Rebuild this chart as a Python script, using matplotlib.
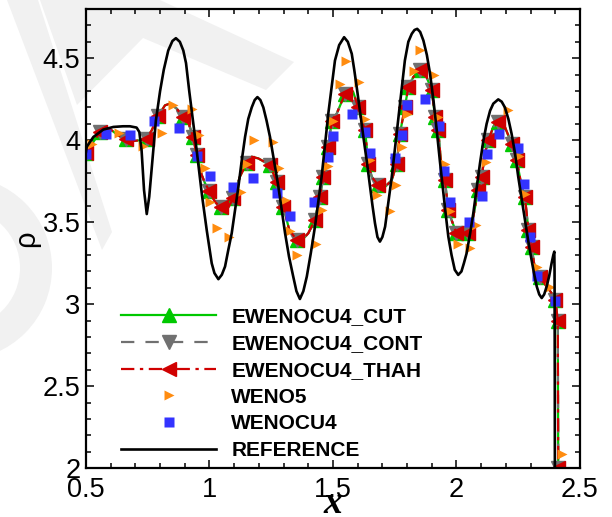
import numpy as np
import matplotlib
matplotlib.use('Agg')
import matplotlib.pyplot as plt
from matplotlib.patches import Polygon, Wedge

# reference solution (black line)
ref_x = [0.500, 0.503, 0.530, 0.570, 0.611, 0.650, 0.678, 0.705, 0.716, 0.725,
         0.735, 0.746, 0.756, 0.770, 0.783, 0.800, 0.815, 0.833, 0.850, 0.864,
         0.880, 0.894, 0.905, 0.918, 0.933, 0.948, 0.970, 0.989, 1.009, 1.020,
         1.036, 1.050, 1.063, 1.076, 1.090, 1.103, 1.117, 1.130, 1.144, 1.157,
         1.171, 1.183, 1.194, 1.206, 1.218, 1.231, 1.245, 1.262, 1.279, 1.293,
         1.306, 1.322, 1.339, 1.352, 1.366, 1.380, 1.394, 1.410, 1.427, 1.440,
         1.454, 1.467, 1.481, 1.495, 1.508, 1.525, 1.545, 1.560, 1.576, 1.586,
         1.596, 1.610, 1.623, 1.637, 1.650, 1.660, 1.670, 1.680, 1.690, 1.700,
         1.711, 1.724, 1.738, 1.751, 1.764, 1.778, 1.791, 1.805, 1.819, 1.830,
         1.841, 1.853, 1.866, 1.880, 1.893, 1.907, 1.920, 1.933, 1.947, 1.957,
         1.967, 1.980, 1.993, 2.007, 2.020, 2.030, 2.041, 2.055, 2.068, 2.082,
         2.095, 2.108, 2.122, 2.136, 2.149, 2.169, 2.183, 2.196, 2.210, 2.223,
         2.237, 2.250, 2.264, 2.277, 2.290, 2.304, 2.315, 2.325, 2.335, 2.345,
         2.355, 2.365, 2.375, 2.385, 2.392, 2.396, 2.397, 2.398, 2.399, 2.500]
ref_y = [3.930, 3.960, 4.020, 4.065, 4.081, 4.085, 4.085, 4.077, 4.050, 3.940,
         3.696, 3.550, 3.655, 3.900, 4.120, 4.300, 4.430, 4.547, 4.605, 4.622,
         4.600, 4.547, 4.470, 4.300, 4.120, 3.940, 3.660, 3.450, 3.250, 3.190,
         3.153, 3.180, 3.230, 3.330, 3.433, 3.570, 3.716, 3.870, 4.020, 4.130,
         4.200, 4.245, 4.263, 4.245, 4.200, 4.120, 4.020, 3.870, 3.716, 3.570,
         3.433, 3.290, 3.169, 3.080, 3.032, 3.080, 3.169, 3.310, 3.473, 3.620,
         3.777, 3.960, 4.162, 4.330, 4.486, 4.580, 4.628, 4.600, 4.527, 4.430,
         4.324, 4.170, 4.020, 3.870, 3.716, 3.600, 3.494, 3.410, 3.382, 3.410,
         3.473, 3.620, 3.777, 3.950, 4.120, 4.310, 4.486, 4.600, 4.649, 4.672,
         4.679, 4.660, 4.608, 4.520, 4.405, 4.240, 4.061, 3.870, 3.676, 3.540,
         3.412, 3.300, 3.210, 3.179, 3.200, 3.250, 3.311, 3.430, 3.554, 3.710,
         3.858, 3.990, 4.100, 4.180, 4.223, 4.249, 4.235, 4.200, 4.130, 4.040,
         3.920, 3.777, 3.640, 3.514, 3.390, 3.270, 3.180, 3.108, 3.060, 3.038,
         3.060, 3.108, 3.170, 3.250, 3.300, 3.321, 3.200, 2.500, 1.000, 1.050]

# EWENOCU4 (CUT / CONT / THAH lie on top of each other)
ew_x = [0.500, 0.530, 0.557, 0.577, 0.600, 0.630, 0.660, 0.690, 0.719, 0.746,
        0.766, 0.793, 0.820, 0.840, 0.867, 0.894, 0.914, 0.934, 0.948, 0.968,
        0.982, 1.000, 1.022, 1.045, 1.070, 1.096, 1.123, 1.150, 1.171, 1.198,
        1.220, 1.245, 1.272, 1.299, 1.323, 1.353, 1.380, 1.400, 1.427, 1.447,
        1.461, 1.481, 1.495, 1.515, 1.549, 1.569, 1.582, 1.602, 1.616, 1.630,
        1.643, 1.657, 1.683, 1.711, 1.738, 1.758, 1.771, 1.791, 1.805, 1.825,
        1.852, 1.879, 1.900, 1.913, 1.926, 1.940, 1.953, 1.967, 1.980, 2.000,
        2.021, 2.048, 2.068, 2.088, 2.102, 2.115, 2.129, 2.149, 2.169, 2.196,
        2.223, 2.244, 2.264, 2.277, 2.291, 2.304, 2.318, 2.338, 2.365, 2.385,
        2.399, 2.405, 2.410, 2.412, 2.415]
ew_y = [3.920, 3.990, 4.050, 4.077, 4.065, 4.030, 4.005, 3.995, 4.000, 4.010,
        4.060, 4.150, 4.213, 4.223, 4.193, 4.140, 4.110, 4.020, 3.909, 3.790,
        3.737, 3.690, 3.625, 3.590, 3.574, 3.645, 3.777, 3.860, 3.899, 3.889,
        3.870, 3.848, 3.747, 3.595, 3.453, 3.392, 3.400, 3.433, 3.514, 3.655,
        3.777, 3.959, 4.120, 4.162, 4.284, 4.314, 4.294, 4.200, 4.120, 4.061,
        3.858, 3.777, 3.726, 3.716, 3.757, 3.858, 4.040, 4.202, 4.324, 4.385,
        4.426, 4.385, 4.304, 4.142, 4.061, 3.818, 3.757, 3.574, 3.514, 3.433,
        3.412, 3.433, 3.534, 3.696, 3.777, 3.919, 4.000, 4.081, 4.111, 4.081,
        3.980, 3.878, 3.716, 3.655, 3.453, 3.351, 3.210, 3.169, 3.108, 3.068,
        3.027, 2.967, 2.900, 2.000, 1.000]

# WENO5 symbols
w5_x = [0.523, 0.635, 0.729, 0.806, 0.853, 0.930, 0.958, 0.981, 1.004, 1.029,
        1.080, 1.129, 1.153, 1.179, 1.258, 1.281, 1.306, 1.326, 1.354, 1.431,
        1.454, 1.478, 1.501, 1.527, 1.552, 1.605, 1.629, 1.650, 1.677, 1.731,
        1.755, 1.778, 1.798, 1.828, 1.851, 1.907, 1.926, 1.953, 1.974, 2.007,
        2.055, 2.077, 2.120, 2.207, 2.253, 2.276, 2.324, 2.378, 2.426]
w5_y = [3.980, 4.045, 3.965, 4.045, 4.216, 4.193, 4.030, 3.828, 3.625, 3.463,
        3.412, 3.683, 3.858, 4.000, 3.990, 3.830, 3.638, 3.448, 3.298, 3.368,
        3.574, 3.840, 4.120, 4.345, 4.484, 4.355, 4.129, 3.878, 3.666, 3.570,
        3.726, 3.959, 4.162, 4.421, 4.547, 4.395, 4.142, 3.858, 3.570, 3.370,
        3.342, 3.483, 3.868, 4.182, 3.905, 3.670, 3.225, 3.105, 2.090]

# WENOCU4 symbols
cu_x = [0.500, 0.580, 0.678, 0.777, 0.878, 0.948, 1.002, 1.096, 1.177, 1.274,
        1.326, 1.423, 1.481, 1.501, 1.575, 1.630, 1.650, 1.751, 1.780, 1.801,
        1.872, 1.929, 1.951, 1.972, 2.051, 2.102, 2.125, 2.173, 2.250, 2.274,
        2.299, 2.327, 2.399]
cu_y = [3.919, 4.035, 4.030, 4.115, 4.077, 3.903, 3.779, 3.714, 3.767, 3.676,
        3.538, 3.623, 3.897, 4.024, 4.162, 4.050, 3.925, 3.889, 4.030, 4.217,
        4.253, 4.085, 3.814, 3.623, 3.499, 3.660, 3.914, 4.040, 3.950, 3.731,
        3.412, 3.175, 3.021]

x_ticks = [0.5, 1, 1.5, 2, 2.5]
x_ticklabels = ['0.5', '1', '1.5', '2', '2.5']
y_ticks = [2, 2.5, 3, 3.5, 4, 4.5]
y_ticklabels = ['2', '2.5', '3', '3.5', '4', '4.5']

plt.rcParams['font.family'] = ['Liberation Sans', 'DejaVu Sans']

fig = plt.figure(figsize=(6.12, 5.17), dpi=100)

# faint watermark behind everything (pixel coordinates)
bg = fig.add_axes([0, 0, 1, 1], zorder=-1)
bg.set_xlim(0, 612)
bg.set_ylim(517, 0)
bg.axis('off')
wm = '#f1f1f1'
bg.add_patch(Polygon([(7, 0), (38, 0), (112, 232), (102, 250)], closed=True, color=wm, lw=0))
bg.add_patch(Polygon([(40, 0), (77, 105), (143, 38), (266, 90), (294, 62), (160, 0)],
                     closed=True, color=wm, lw=0))
bg.add_patch(Wedge((-40, 268), 92, 0, 360, width=32, color=wm, lw=0))

ax = fig.add_axes([0.1405, 0.0942, 0.8072, 0.8884])
ax.set_facecolor('none')

me = 0.04
ax.plot(ew_x, ew_y, '-', color='#00c800', lw=1.6, marker='^', ms=10,
        markevery=me, label='EWENOCU4_CUT')
ax.plot(ew_x, ew_y, '--', color='#707070', lw=1.6, marker='v', ms=10,
        markevery=me, dashes=(6, 5), label='EWENOCU4_CONT')
ax.plot(ew_x, ew_y, '-.', color='#d00000', lw=1.6, marker='<', ms=10,
        markevery=me, dashes=(6, 2.5, 1.5, 2.5), label='EWENOCU4_THAH')
ax.plot(w5_x, w5_y, ls='none', marker='>', ms=7.5, color='#ff8c10',
        mec='none', label='WENO5')
ax.plot(cu_x, cu_y, ls='none', marker='s', ms=6.5, color='#3333ff',
        mec='none', label='WENOCU4')
ax.plot(ref_x, ref_y, '-', color='black', lw=1.9, label='REFERENCE')

ax.set_xlim(0.5, 2.5)
ax.set_ylim(2, 4.8)
ax.set_xticks(x_ticks)
ax.set_xticklabels(x_ticklabels)
ax.set_yticks(y_ticks)
ax.set_yticklabels(y_ticklabels)
ax.set_xticks(np.arange(0.5, 2.5, 0.1), minor=True)
ax.set_yticks(np.arange(2, 4.8, 0.1), minor=True)
ax.tick_params(which='both', direction='in', top=True, right=True, width=1.1)
ax.tick_params(which='major', length=6, labelsize=19.5, pad=4)
ax.tick_params(axis='x', which='major', pad=6)
ax.tick_params(which='minor', length=3.5)
for s in ax.spines.values():
    s.set_linewidth(1.6)

ax.set_xlabel('x', fontsize=27, fontstyle='italic', fontweight='bold',
              family='Liberation Serif', va='baseline')
ax.xaxis.set_label_coords(0.5, -0.0975)
ax.set_ylabel('ρ', fontsize=21, labelpad=2)

leg = ax.legend(loc='upper left', bbox_to_anchor=(0.071, 0.350), frameon=False,
                prop={'weight': 'bold', 'size': 15}, handlelength=4.57,
                handletextpad=0.72, labelspacing=0.37, borderpad=0,
                borderaxespad=0, markerscale=1.0)

fig.savefig('out.png', dpi=100)
